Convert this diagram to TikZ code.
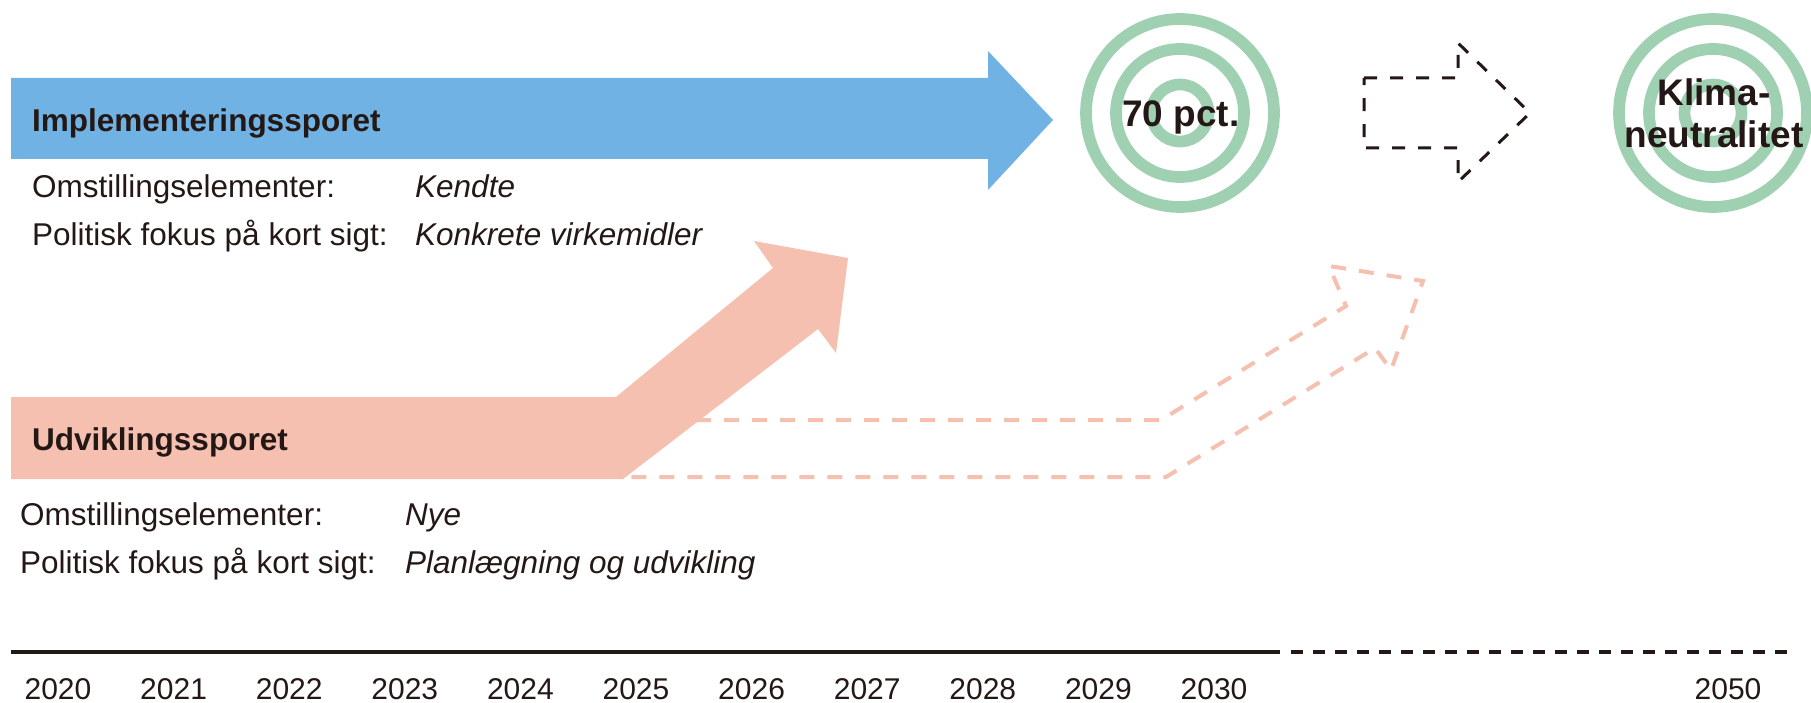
\documentclass[tikz,border=0pt]{standalone}
\usepackage{fontspec}
\setmainfont{Liberation Sans}
\definecolor{sporblaa}{HTML}{70B2E4}
\definecolor{sporlaks}{HTML}{F6C0B0}
\definecolor{maalgroen}{HTML}{A0D0B2}
\definecolor{tekst}{HTML}{231815}

\begin{document}
\begin{tikzpicture}[x=1pt,y=-1pt,
  txt/.style={text=tekst,inner sep=0pt,font=\fontsize{31.5}{37}\selectfont},
  kursiv/.style={text=tekst,inner sep=0pt,font=\fontsize{31.5}{37}\selectfont\itshape},
  hoved/.style={text=tekst,inner sep=0pt,font=\fontsize{31.5}{37}\selectfont\bfseries},
  stor/.style={text=tekst,inner sep=0pt,font=\fontsize{37}{42}\selectfont\bfseries},
  aar/.style={text=tekst,inner sep=0pt,font=\fontsize{30}{36}\selectfont},
  ring/.style={draw=maalgroen,line width=11.7pt},
  laksdash/.style={draw=sporlaks,line width=4pt,dash pattern=on 15pt off 13pt}]

\useasboundingbox (0,0) rectangle (1811,703);

\fill[sporblaa] (11,78) -- (988,78) -- (988,51) -- (1053,120) -- (988,190) -- (988,159) -- (11,159) -- cycle;

\draw[laksdash] (640,420) -- (1161,420) -- (1346,306) -- (1329,266) -- (1423,281) -- (1391,370) -- (1375,348) -- (1166,477) -- (623,477);
\fill[sporlaks] (11,397) -- (616,397) -- (773,268) -- (754,241) -- (848,258) -- (836,353) -- (818,329) -- (623,479) -- (11,479) -- cycle;

\draw[tekst,line width=3pt,dash pattern=on 13pt off 13pt] (1364,78) -- (1458,78) -- (1458,43) -- (1530,113) -- (1458,182) -- (1458,148) -- (1364,148) -- cycle;

\foreach \r in {94,64,28.5} {
  \draw[ring] (1180,113) circle (\r);
  \draw[ring] (1713,113) circle (\r);
}

\node[stor,anchor=base] (halvfjerds) at (1181,127) {70 pct.};
\node[stor,anchor=base] (klima) at (1714,106) {Klima-};
\node[stor,anchor=base] (neutral) at (1714,148) {neutralitet};

\node[hoved,anchor=base west] (impl) at (32,132) {Implementeringssporet};
\node[txt,anchor=base west] (implomst) at (32,198) {Omstillingselementer:};
\node[kursiv,anchor=base west] (implkendt) at (415,198) {Kendte};
\node[txt,anchor=base west] (implfokus) at (32,246) {Politisk fokus på kort sigt:};
\node[kursiv,anchor=base west] (implvirk) at (415,246) {Konkrete virkemidler};

\node[hoved,anchor=base west] (udv) at (32,450) {Udviklingssporet};
\node[txt,anchor=base west] (udvomst) at (20,525) {Omstillingselementer:};
\node[kursiv,anchor=base west] (udvnye) at (405,525) {Nye};
\node[txt,anchor=base west] (udvfokus) at (20,573) {Politisk fokus på kort sigt:};
\node[kursiv,anchor=base west] (udvplan) at (405,573) {Planlægning og udvikling};

\draw[tekst,line width=3.5pt] (11,652) -- (1280,652);
\draw[tekst,line width=3.5pt,dash pattern=on 12pt off 10pt] (1291,652) -- (1790,652);

\foreach \aar [count=\i from 0] in {2020,...,2030}
  \node[aar,anchor=base] (aar\aar) at (58+115.6*\i,699) {\aar};
\node[aar,anchor=base] (aar2050) at (1728,699) {2050};

\end{tikzpicture}
\end{document}
